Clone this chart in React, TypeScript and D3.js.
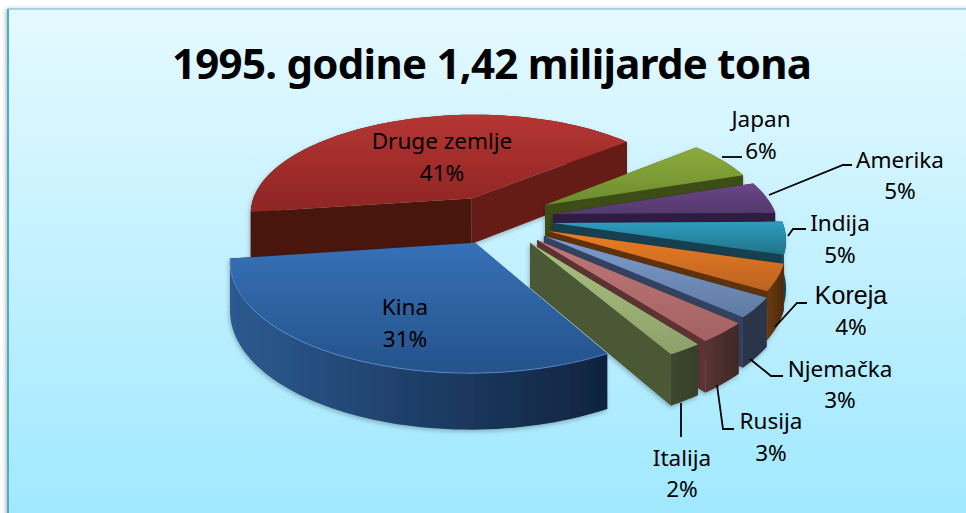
import React from "react";
import * as d3 from "d3";

const W = 966, H = 513;
const title = "1995. godine 1,42 milijarde tona";
const categories = ["Japan", "Amerika", "Indija", "Koreja", "Njemačka", "Rusija", "Italija", "Kina", "Druge zemlje"];
const shares = [6, 5, 5, 4, 3, 3, 2, 31, 41];
const explodeU = [0.182, 0.216, 0.213, 0.189, 0.17, 0.139, 0.108, -0.13, -0.155];
const explodeV = [-0.172, -0.08, 0.01, 0.088, 0.136, 0.175, 0.2, 0.2, -0.24];
const radiusScale = [1, 1, 1.02, 1.03, 1.04, 1.05, 1.05, 1.045, 1];
const depthScale = [1, 1, 1, 0.95, 0.95, 0.95, 0.93, 1, 1];
const drawOrder = [8, 0, 1, 2, 3, 4, 5, 6, 7];
const topFrom = ["#8cab3c", "#6b4688", "#2f9cbf", "#ec7d25", "#7f9dce", "#bf7777", "#a9c37e", "#3771b8", "#b53533"];
const topTo = ["#6d8c2d", "#53396d", "#1f7387", "#bb6320", "#5f7ba3", "#a46262", "#8ea06b", "#25528a", "#8e2523"];
const cutStartFill = ["#3d4d19", "#2d1c42", "#123f4f", "#5f3108", "#314260", "#5d3030", "#4c5835", "#10233f", "#4a1210"];
const cutEndFill = ["#3d4d19", "#2d1c42", "#123f4f", "#5f3108", "#314260", "#5d3030", "#4c5835", "#10233f", "#651a18"];
const outerFrom = ["#3d4d19", "#2d1c42", "#1a5a70", "#6a3a0c", "#2b3548", "#5a3232", "#3d4730", "#2c5a90", "#4a1210"];
const outerTo = ["#3d4d19", "#2d1c42", "#123f4f", "#4e2a08", "#2b3548", "#402828", "#38402a", "#10233f", "#4a1210"];

const labelLines = [
  { name: "Japan", x: 761, y: 127, pct: "6%", py: 159 },
  { name: "Amerika", x: 900, y: 168, pct: "5%", py: 199 },
  { name: "Indija", x: 840, y: 231, pct: "5%", py: 263 },
  { name: "Koreja", x: 851, y: 304, pct: "4%", py: 335, sans: true },
  { name: "Njemačka", x: 840, y: 377, pct: "3%", py: 408 },
  { name: "Rusija", x: 771, y: 429, pct: "3%", py: 461 },
  { name: "Italija", x: 682, y: 466, pct: "2%", py: 497 },
  { name: "Kina", x: 405, y: 315, pct: "31%", py: 347 },
  { name: "Druge zemlje", x: 442, y: 149, pct: "41%", py: 181 },
];
const leaders: [number, number][][] = [
  [[722, 157], [742, 157]],
  [[769, 195], [843, 165], [852, 165]],
  [[788, 236], [793, 229], [806, 229]],
  [[775, 327], [797, 303], [807, 303]],
  [[750, 359], [771, 376], [783, 376]],
  [[717, 385], [723, 429], [734, 429]],
  [[681, 403], [681, 437]],
];

const cx = 505, cy = 222, R = 225, KY = 101, P = 0.135, DEPTH = 47;
const project = (u: number, v: number, z = 0): [number, number] => {
  const s = 1 / (1 - P * v);
  return [cx + R * u * s, cy + KY * v * s + z * s];
};

const START = (49.6 * Math.PI) / 180;
const arcs = d3.pie<number>().sort(null).startAngle(START).endAngle(START + 2 * Math.PI)(shares);
const lineGen = d3.line();

function geometry(i: number) {
  const a0 = arcs[i].startAngle - Math.PI / 2;
  const a1 = arcs[i].endAngle - Math.PI / 2;
  const depth = DEPTH * depthScale[i];
  const n = Math.max(4, Math.ceil((a1 - a0) / 0.03));
  const ground = d3.range(n + 1).map((k) => {
    const a = a0 + ((a1 - a0) * k) / n;
    return [explodeU[i] + radiusScale[i] * Math.cos(a), explodeV[i] + radiusScale[i] * Math.sin(a)] as [number, number];
  });
  const apex: [number, number] = [explodeU[i], explodeV[i]];
  const rimTop = ground.map(([u, v]) => project(u, v));
  const rimBot = ground.map(([u, v]) => project(u, v, depth));
  const top = lineGen([project(apex[0], apex[1]), ...rimTop])! + "Z";
  const outer = lineGen([...rimTop, ...rimBot.slice().reverse()])! + "Z";
  const first = ground[0], last = ground[n];
  const cut = (p: [number, number]) =>
    lineGen([project(apex[0], apex[1]), project(p[0], p[1]), project(p[0], p[1], depth), project(apex[0], apex[1], depth)])! + "Z";
  return { top, outer, cutStart: cut(first), cutEnd: cut(last), rim: lineGen(rimTop)! };
}

export default function App() {
  return (
    <svg width={W} height={H} viewBox={`0 0 ${W} ${H}`} style={{ position: "absolute", left: 0, top: 0, display: "block" }}>
      <defs>
        <linearGradient id="bg" x1="0" y1="0" x2="0" y2="1">
          <stop offset="0" stopColor="#e5f9ff" />
          <stop offset="1" stopColor="#9fe8ff" />
        </linearGradient>
        {categories.map((_, i) => (
          <React.Fragment key={i}>
            <linearGradient id={`top${i}`} x1="0" y1="0" x2="0" y2="1">
              <stop offset="0" stopColor={topFrom[i]} />
              <stop offset="1" stopColor={topTo[i]} />
            </linearGradient>
            <linearGradient id={`outer${i}`} x1="0" y1="0" x2="1" y2="0">
              <stop offset="0" stopColor={outerFrom[i]} />
              <stop offset="1" stopColor={outerTo[i]} />
            </linearGradient>
          </React.Fragment>
        ))}
        <filter id="sh" x="-10%" y="-10%" width="120%" height="120%">
          <feDropShadow dx="-1" dy="2" stdDeviation="2" floodColor="#000" floodOpacity="0.25" />
        </filter>
        <filter id="panelSh" x="-2%" y="-2%" width="104%" height="104%">
          <feDropShadow dx="-2" dy="0" stdDeviation="2" floodColor="#000" floodOpacity="0.3" />
        </filter>
      </defs>
      <rect x={0} y={0} width={W} height={H} fill="#fff" />
      <rect x={8} y={9} width={W} height={H} fill="url(#bg)" filter="url(#panelSh)" />
      <line x1={8} y1={9} x2={W} y2={9} stroke="#8ecfe0" strokeWidth={1.5} />
      <line x1={8} y1={9} x2={8} y2={H} stroke="#46b0c8" strokeWidth={2} />
      <text x={492} y={79} textAnchor="middle" textLength={640} lengthAdjust="spacing"
        style={{ fontFamily: "'Noto Sans', sans-serif", fontWeight: 700, fontSize: 42 }} fill="#000">{title}</text>

      {drawOrder.map((i) => {
        const g = geometry(i);
        return (
          <g key={categories[i]} filter="url(#sh)">
            {i === 8 && <path d={g.outer} fill={`url(#outer${i})`} />}
            <path d={g.cutStart} fill={cutStartFill[i]} />
            <path d={g.cutEnd} fill={cutEndFill[i]} />
            {i !== 8 && <path d={g.outer} fill={`url(#outer${i})`} />}
            <path d={g.top} fill={`url(#top${i})`} />
            {i === 7 && <path d={g.rim} fill="none" stroke="#5d92d2" strokeWidth={1} opacity={0.8} />}
          </g>
        );
      })}

      {leaders.map((pts, i) => (
        <path key={i} d={lineGen(pts)!} fill="none" stroke="#000" strokeWidth={1.8} />
      ))}
      {labelLines.map((l) => (
        <g key={l.name} textAnchor="middle" fill="#000" style={{ fontFamily: "'Noto Sans', sans-serif", fontSize: 22.5 }}>
          <text x={l.x} y={l.y} style={l.sans ? { fontFamily: "'Liberation Sans', sans-serif", fontSize: 25 } : undefined}>{l.name}</text>
          <text x={l.x} y={l.py}>{l.pct}</text>
        </g>
      ))}
    </svg>
  );
}
